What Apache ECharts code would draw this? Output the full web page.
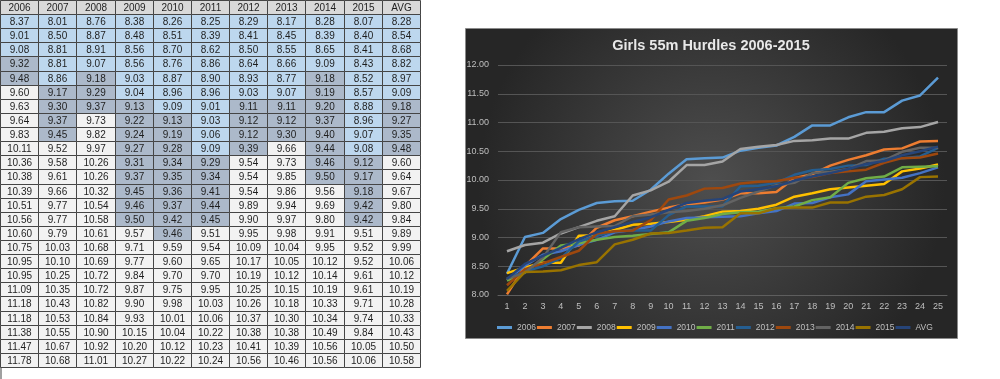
<!DOCTYPE html>
<html><head><meta charset="utf-8">
<script src="https://cdn.jsdelivr.net/npm/echarts@6/dist/echarts.min.js"></script>
<style>html,body{margin:0;padding:0;background:#fff}#c{width:1000px;height:379px}</style>
</head><body><div id="c"></div>
<script>
const years = ['2006','2007','2008','2009','2010','2011','2012','2013','2014','2015'];
const columns = ['2006','2007','2008','2009','2010','2011','2012','2013','2014','2015','AVG'];
const places = ['1','2','3','4','5','6','7','8','9','10','11','12','13','14','15','16','17','18','19','20','21','22','23','24','25'];
const yTickMin = 8, yTickMax = 12, yTickStep = 0.5;

const v2006 = [8.37,9.01,9.08,9.32,9.48,9.60,9.63,9.64,9.83,10.11,10.36,10.38,10.39,10.51,10.56,10.60,10.75,10.95,10.95,11.09,11.18,11.18,11.38,11.47,11.78];
const v2007 = [8.01,8.50,8.81,8.81,8.86,9.17,9.30,9.37,9.45,9.52,9.58,9.61,9.66,9.77,9.77,9.79,10.03,10.10,10.25,10.35,10.43,10.53,10.55,10.67,10.68];
const v2008 = [8.76,8.87,8.91,9.07,9.18,9.29,9.37,9.73,9.82,9.97,10.26,10.26,10.32,10.54,10.58,10.61,10.68,10.69,10.72,10.72,10.82,10.84,10.90,10.92,11.01];
const v2009 = [8.38,8.48,8.56,8.56,9.03,9.04,9.13,9.22,9.24,9.27,9.31,9.37,9.45,9.46,9.50,9.57,9.71,9.77,9.84,9.87,9.90,9.93,10.15,10.20,10.27];
const v2010 = [8.26,8.51,8.70,8.76,8.87,8.96,9.09,9.13,9.19,9.28,9.34,9.35,9.36,9.37,9.42,9.46,9.59,9.60,9.70,9.75,9.98,10.01,10.04,10.12,10.22];
const v2011 = [8.25,8.39,8.62,8.86,8.90,8.96,9.01,9.03,9.06,9.09,9.29,9.34,9.41,9.44,9.45,9.51,9.54,9.65,9.70,9.95,10.03,10.06,10.22,10.23,10.24];
const v2012 = [8.29,8.41,8.50,8.64,8.93,9.03,9.11,9.12,9.12,9.39,9.54,9.54,9.54,9.89,9.90,9.95,10.09,10.17,10.19,10.25,10.26,10.37,10.38,10.41,10.56];
const v2013 = [8.17,8.45,8.55,8.66,8.77,9.07,9.11,9.12,9.30,9.66,9.73,9.85,9.86,9.94,9.97,9.98,10.04,10.05,10.12,10.15,10.18,10.30,10.38,10.39,10.46];
const v2014 = [8.28,8.39,8.65,9.09,9.18,9.19,9.20,9.37,9.40,9.44,9.46,9.50,9.56,9.69,9.80,9.91,9.95,10.12,10.14,10.19,10.33,10.34,10.49,10.56,10.56];
const v2015 = [8.07,8.40,8.41,8.43,8.52,8.57,8.88,8.96,9.07,9.08,9.12,9.17,9.18,9.42,9.42,9.51,9.52,9.52,9.61,9.61,9.71,9.74,9.84,10.05,10.06];
const vAvg  = [8.28,8.54,8.68,8.82,8.97,9.09,9.18,9.27,9.35,9.48,9.60,9.64,9.67,9.80,9.84,9.89,9.99,10.06,10.12,10.19,10.28,10.33,10.43,10.50,10.58];

const tableCols = [v2006,v2007,v2008,v2009,v2010,v2011,v2012,v2013,v2014,v2015,vAvg];
const lineColors = ['#5B9BD5','#ED7D31','#A5A5A5','#FFC000','#4472C4','#70AD47','#255E91','#9E480E','#636363','#997300','#264478'];
const fills = {h:'#d9d9d9', b:'#bdd7ee', g:'#acb9ca', w:'#f2f2f2'};

const rowCats = ['hdr'].concat(places);
const cells = [];
columns.forEach((name, c) => cells.push({value:[c,0], t:name, k:'h'}));
for (let r = 0; r < places.length; r++) {
  for (let c = 0; c < columns.length; c++) {
    const val = tableCols[c][r];
    const k = val < 9.1 ? 'b' : (val <= 9.5 ? 'g' : 'w');
    cells.push({value:[c, r+1], t: val.toFixed(2), k});
  }
}

function renderCell(params, api) {
  const d = cells[params.dataIndex];
  const p = api.coord([api.value(0), api.value(1)]);
  const s = api.size([1,1]);
  const x0 = Math.round(p[0]-s[0]/2)+0.5, y0 = Math.round(p[1]-s[1]/2)+0.5;
  const x1 = Math.round(p[0]+s[0]/2)+0.5, y1 = Math.round(p[1]+s[1]/2)+0.5;
  return {type:'group', children:[
    {type:'rect', shape:{x:x0,y:y0,width:x1-x0,height:y1-y0}, style:{fill:fills[d.k], stroke:'#454545', lineWidth:1}},
    {type:'text', style:{text:d.t, x:(x0+x1)/2, y:(y0+y1)/2+0.5, align:'center', verticalAlign:'middle', fill:'#1e1e1e', font:'10px "Liberation Sans"'}}
  ]};
}

const allNames = years.concat(['AVG']);
const lineSeries = tableCols.map((arr, i) => ({
  name: allNames[i], type:'line', xAxisIndex:1, yAxisIndex:1,
  data: arr, showSymbol:false, symbol:'none',
  lineStyle:{width:2.5, color:lineColors[i]}, itemStyle:{color:lineColors[i]}
}));

const chart = echarts.init(document.getElementById('c'), null, {renderer:'canvas'});
chart.setOption({
  animation:false,
  backgroundColor:'#ffffff',
  graphic:[
    {type:'rect', z:-10, shape:{x:465.5,y:28.5,width:492,height:310},
     style:{stroke:'#8a8a8a', lineWidth:1, fill:new echarts.graphic.RadialGradient(0.5,0.5,0.75,[{offset:0,color:'#4e4e4e'},{offset:1,color:'#262626'}])}},
    {type:'text', z:5, style:{text:'Girls 55m Hurdles 2006-2015', x:711, y:46, align:'center', verticalAlign:'middle', fill:'#e8e8e8', font:'bold 14.5px "Liberation Sans"'}},
    {type:'line', z:-5, shape:{x1:1,y1:0,x2:1,y2:379}, style:{stroke:'#a0a0a0', lineWidth:2}}
  ],
  grid:[
    {left:0, top:0, width:420, height:367},
    {left:498, right:53, top:65, bottom:84}
  ],
  legend:{
    data: allNames, left:492, top:318, itemWidth:15, itemHeight:3, itemGap:1, icon:'rect',
    textStyle:{color:'#bfbfbf', fontSize:8.5, fontFamily:'Liberation Sans'}
  },
  xAxis:[
    {type:'category', gridIndex:0, data:columns, show:false},
    {type:'category', gridIndex:1, data:places, boundaryGap:true,
     axisLine:{show:true, lineStyle:{color:'#5e5e5e'}}, axisTick:{show:false},
     axisLabel:{color:'#bfbfbf', fontSize:9, margin:7, fontFamily:'Liberation Sans', interval:0}}
  ],
  yAxis:[
    {type:'category', gridIndex:0, data:rowCats, inverse:true, show:false},
    {type:'value', gridIndex:1, min:yTickMin, max:yTickMax, interval:yTickStep,
     axisLine:{show:false}, axisTick:{show:false},
     splitLine:{lineStyle:{color:'#555555'}},
     axisLabel:{color:'#bfbfbf', fontSize:9, margin:9, fontFamily:'Liberation Sans', formatter:v=>v.toFixed(2)}}
  ],
  series:[
    {type:'custom', xAxisIndex:0, yAxisIndex:0, data:cells.map(c=>c.value), renderItem:renderCell, silent:true}
  ].concat(lineSeries)
});
</script></body></html>
